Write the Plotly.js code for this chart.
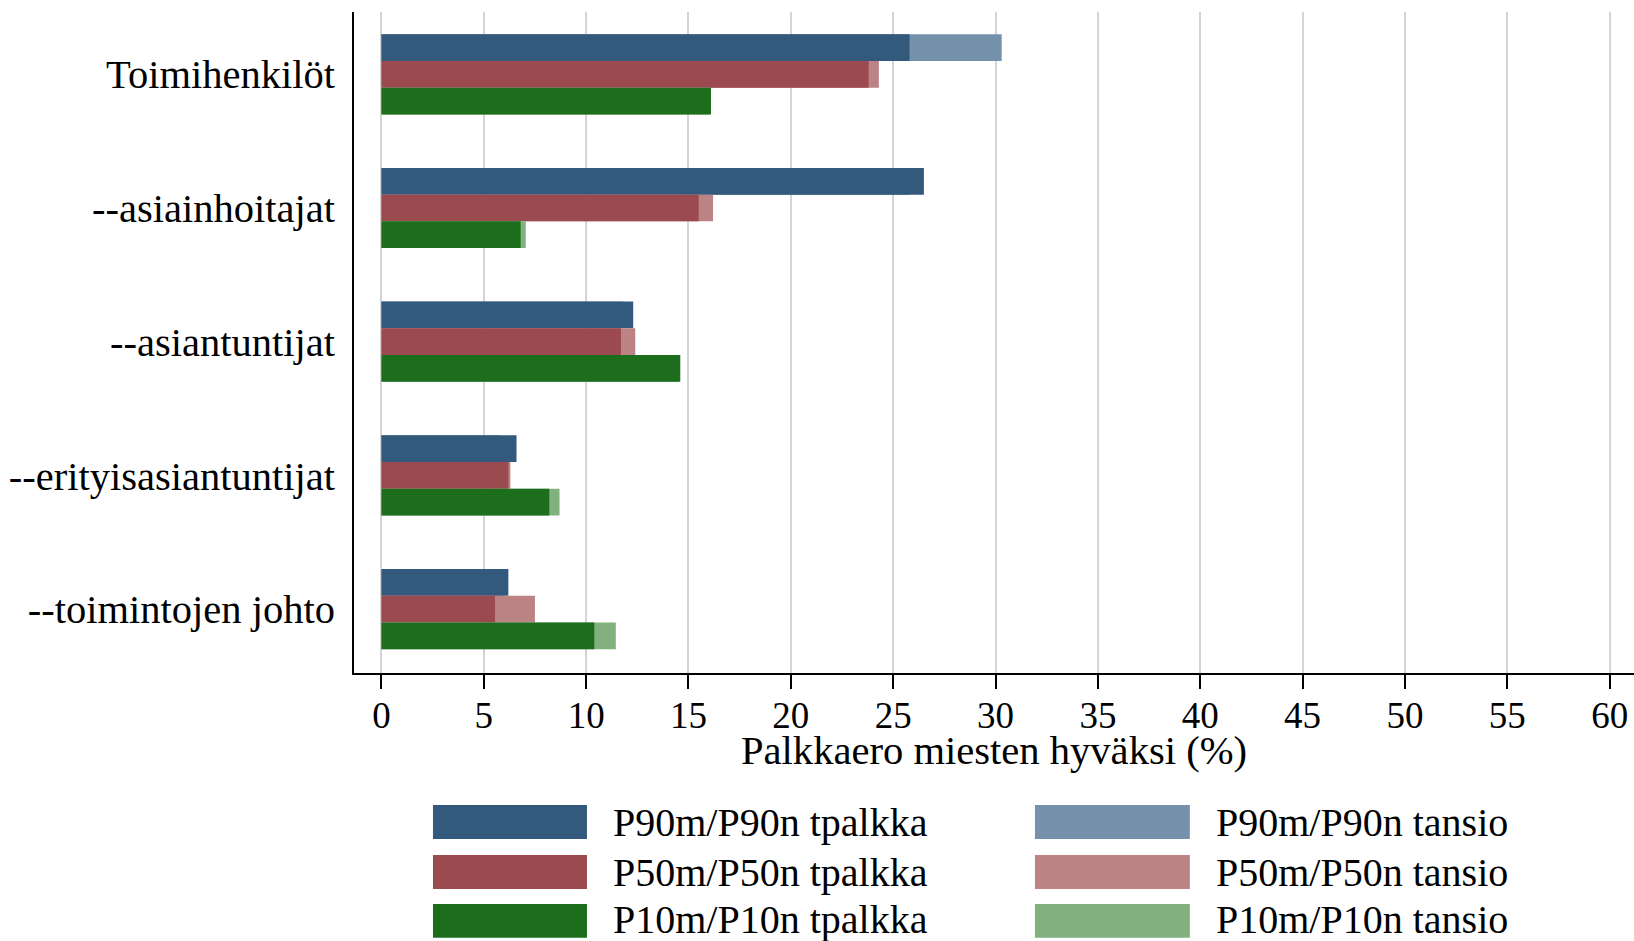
<!DOCTYPE html>
<html>
<head>
<meta charset="utf-8">
<script src="https://cdn.plot.ly/plotly-3.0.1.min.js"></script>
<style>html,body{margin:0;padding:0;background:#fff;}#chart{width:1634px;height:941px;}</style>
</head>
<body>
<div id="chart"></div>
<script>
const categories = ["Toimihenkilöt", "--asiainhoitajat", "--asiantuntijat", "--erityisasiantuntijat", "--toimintojen johto"];

const p90_tpalkka = [25.8, 26.5, 12.3, 6.6, 6.2];
const p90_tansio  = [30.3, 25.8, 11.8, 5.8, 6.0];
const p50_tpalkka = [23.8, 15.5, 11.7, 6.2, 5.55];
const p50_tansio  = [24.3, 16.2, 12.4, 6.3, 7.5];
const p10_tpalkka = [16.1, 6.8, 14.6, 8.2, 10.4];
const p10_tansio  = [16.0, 7.05, 14.5, 8.7, 11.45];

const xTickVals = [0, 5, 10, 15, 20, 25, 30, 35, 40, 45, 50, 55, 60];
const xTitle = "Palkkaero miesten hyväksi (%)";

const seriesNames = ["P90m/P90n tpalkka", "P50m/P50n tpalkka", "P10m/P10n tpalkka",
                     "P90m/P90n tansio", "P50m/P50n tansio", "P10m/P10n tansio"];
const seriesColors = ["#335a7c", "#9b4a4f", "#1c6e1c", "#7691ab", "#bc8385", "#82b07e"];

const groups = ["P90", "P50", "P10"];
const tpalkka = [p90_tpalkka, p50_tpalkka, p10_tpalkka];
const tansio = [p90_tansio, p50_tansio, p10_tansio];

const traces = [];
for (let g = 0; g < 3; g++) {
  traces.push({
    type: "bar", orientation: "h", y: categories, x: tansio[g],
    name: seriesNames[g + 3], offsetgroup: groups[g],
    marker: {color: seriesColors[g + 3], line: {width: 0}}, showlegend: false
  });
  traces.push({
    type: "bar", orientation: "h", y: categories, x: tpalkka[g],
    name: seriesNames[g], offsetgroup: groups[g],
    marker: {color: seriesColors[g], line: {width: 0}}, showlegend: false
  });
}

// custom legend (large swatches) in paper coordinates
const shapes = [];
const annotations = [];
const colX0 = [0.0617, 0.532];
const colX1 = [0.1820, 0.653];
const textX = [0.2008, 0.6715];
const rowY = [-0.2254, -0.301, -0.375];
const textY = [-0.226, -0.302, -0.373];
const swH = 0.0257;
for (let i = 0; i < 6; i++) {
  const c = Math.floor(i / 3), r = i % 3;
  shapes.push({type: "rect", xref: "paper", yref: "paper",
    x0: colX0[c], x1: colX1[c], y0: rowY[r] - swH, y1: rowY[r] + swH,
    fillcolor: seriesColors[i], line: {width: 0}});
  annotations.push({xref: "paper", yref: "paper", x: textX[c], y: textY[r],
    xanchor: "left", yanchor: "middle", showarrow: false, text: seriesNames[i],
    font: {family: "Liberation Serif", size: 40, color: "#000"}});
}
// x-axis title
annotations.push({xref: "paper", yref: "paper", x: 0.5, y: -0.1165,
  xanchor: "center", yanchor: "middle", showarrow: false, text: xTitle,
  font: {family: "Liberation Serif", size: 40.6, color: "#000"}});

const layout = {
  width: 1634, height: 941,
  margin: {l: 354, r: 0, t: 12, b: 268},
  paper_bgcolor: "#fff", plot_bgcolor: "#fff",
  barmode: "group", bargap: 0.4, bargroupgap: 0,
  showlegend: false,
  font: {family: "Liberation Serif", color: "#000"},
  xaxis: {
    range: [-1.34, 61.19], tickvals: xTickVals, ticktext: xTickVals.map(String),
    showgrid: true, gridcolor: "#d4d4d4", gridwidth: 2, zeroline: false,
    showline: true, linecolor: "#000", linewidth: 2,
    ticks: "outside", ticklen: 14, tickwidth: 2, tickcolor: "#000",
    tickfont: {family: "Liberation Serif", size: 37, color: "#000"},
    ticklabelstandoff: -5,
    automargin: false
  },
  yaxis: {
    type: "category", range: [4.478, -0.466],
    showgrid: false, zeroline: false,
    showline: true, linecolor: "#000", linewidth: 2,
    ticks: "", ticklabelstandoff: 9,
    tickfont: {family: "Liberation Serif", size: 40.5, color: "#000"},
    automargin: false
  },
  shapes: shapes,
  annotations: annotations
};

Plotly.newPlot("chart", traces, layout, {displayModeBar: false, staticPlot: true});
</script>
</body>
</html>
